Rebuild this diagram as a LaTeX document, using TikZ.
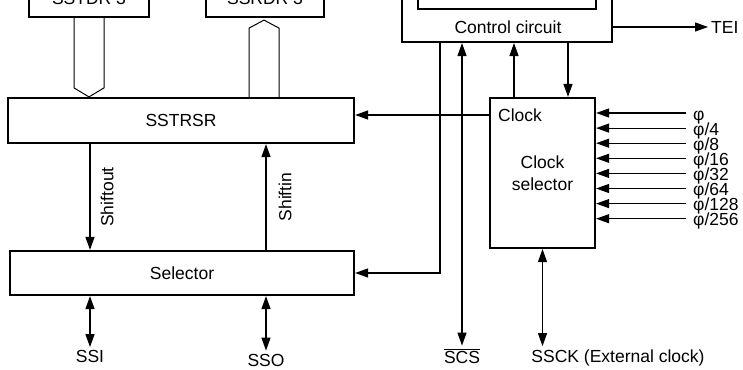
\documentclass[tikz,border=0pt]{standalone}
\usepackage{fontspec}
\setmainfont{Liberation Sans}
\usetikzlibrary{arrows.meta,calc}

\begin{document}
\begin{tikzpicture}[x=1pt,y=-1pt,
    font=\fontsize{17.5}{22}\selectfont,
    >={Triangle[length=13pt,width=9pt]},
    blk/.style={draw,line width=2.2pt,inner sep=0pt,align=center},
    wire/.style={line width=1.2pt},
    bus/.style={draw,line width=1pt},
    pin/.style={inner sep=3pt},
    side/.style={midway,rotate=90,anchor=north,inner sep=10pt}]
  \path[use as bounding box,clip] (0,0) rectangle (743,369);

  % data registers and shift register
  \node[blk,minimum width=120pt,minimum height=37pt] (tdr) at (89,-1.5) {SSTDR 3};
  \node[blk,minimum width=118pt,minimum height=37pt] (rdr) at (265,-1.5) {SSRDR 3};
  \node[blk,minimum width=346pt,minimum height=45pt] (sr) at (181,120.5) {SSTRSR};
  \node[blk,minimum width=344pt,minimum height=44pt] (sel) at (182,273) {Selector};

  % control and clock
  \node[blk,minimum width=210pt,minimum height=80pt,anchor=south] (ctrl) at (507,43) {};
  \node[blk,minimum width=178pt,minimum height=40pt,anchor=south] (ctrlin) at (507,10) {};
  \node (ctrltxt) at (508,27) {Control circuit};
  \node[blk,minimum width=105pt,minimum height=150pt] (clk) at (542.5,173) {Clock\\selector};
  \node[anchor=west,inner sep=3pt] (clkin) at (495,115) {Clock};
  \node[anchor=west,pin] (tei) at (708,27) {TEI};

  % pins
  \node[pin] (ssi) at (90,356.5) {SSI};
  \node[pin] (sso) at (266,360) {SSO};
  \node[pin] (scs) at (462,356) {$\overline{\mbox{SCS}}$};
  \node[pin] (ssck) at (618,357.5) {SSCK (External clock)};

  % buses
  \draw[bus] ($(tdr.south)+(-15,0)$) -- ($(tdr.south |- sr.north)+(-15,-9)$)
    -- (tdr.south |- sr.north) -- ($(tdr.south |- sr.north)+(15,-9)$)
    -- ($(tdr.south)+(15,0)$);
  \draw[bus] ($(rdr.south |- sr.north)+(-16,0)$) -- ($(rdr.south)+(-16,10)$)
    -- ($(rdr.south)+(-1,2)$) -- ($(rdr.south)+(14,10)$)
    -- ($(rdr.south |- sr.north)+(14,0)$);

  % shift paths
  \draw[wire,->] (ssi |- sr.south) -- (ssi |- sel.north)
    node[side] (shout) {Shiftout};
  \draw[wire,->] (sso |- sel.north) -- (sso |- sr.south)
    node[side,inner sep=12pt] (shin) {Shiftin};
  \draw[wire,<->] (ssi |- sel.south) -- (ssi.north);
  \draw[wire,<->] (sso |- sel.south) -- (sso.north);

  % control lines
  \draw[wire,->] (clk.west |- clkin) -- (sr.east |- clkin);
  \draw[wire,->] ($(clk.north)+(-28.5,0)$) -- ($(clk.north |- ctrl.south)+(-28.5,0)$);
  \draw[wire,->] ($(clk.north |- ctrl.south)+(25.5,0)$) -- ($(clk.north)+(25.5,0)$);
  \draw[wire,->] ($(ctrl.south)+(-67,0)$) |- (sel.east);
  \draw[wire,<->] (scs |- ctrl.south) -- (scs.north);
  \draw[wire,->] (ctrl.east |- tei) -- (tei.west);
  \draw[wire,<->] (clk.south) -- (clk.south |- ssck.north);

  % clock inputs
  \foreach \rate [count=\i from 0] in {{},/4,/8,/16,/32,/64,/128,/256} {
    \coordinate (in\i) at (686,{113+15.1*\i});
    \draw[wire,->] (in\i) -- (in\i -| clk.east);
    \node[anchor=base west,inner sep=0pt] (ph\i) at ($(in\i)+(7,7)$) {φ\rate};
  }
\end{tikzpicture}
\end{document}
